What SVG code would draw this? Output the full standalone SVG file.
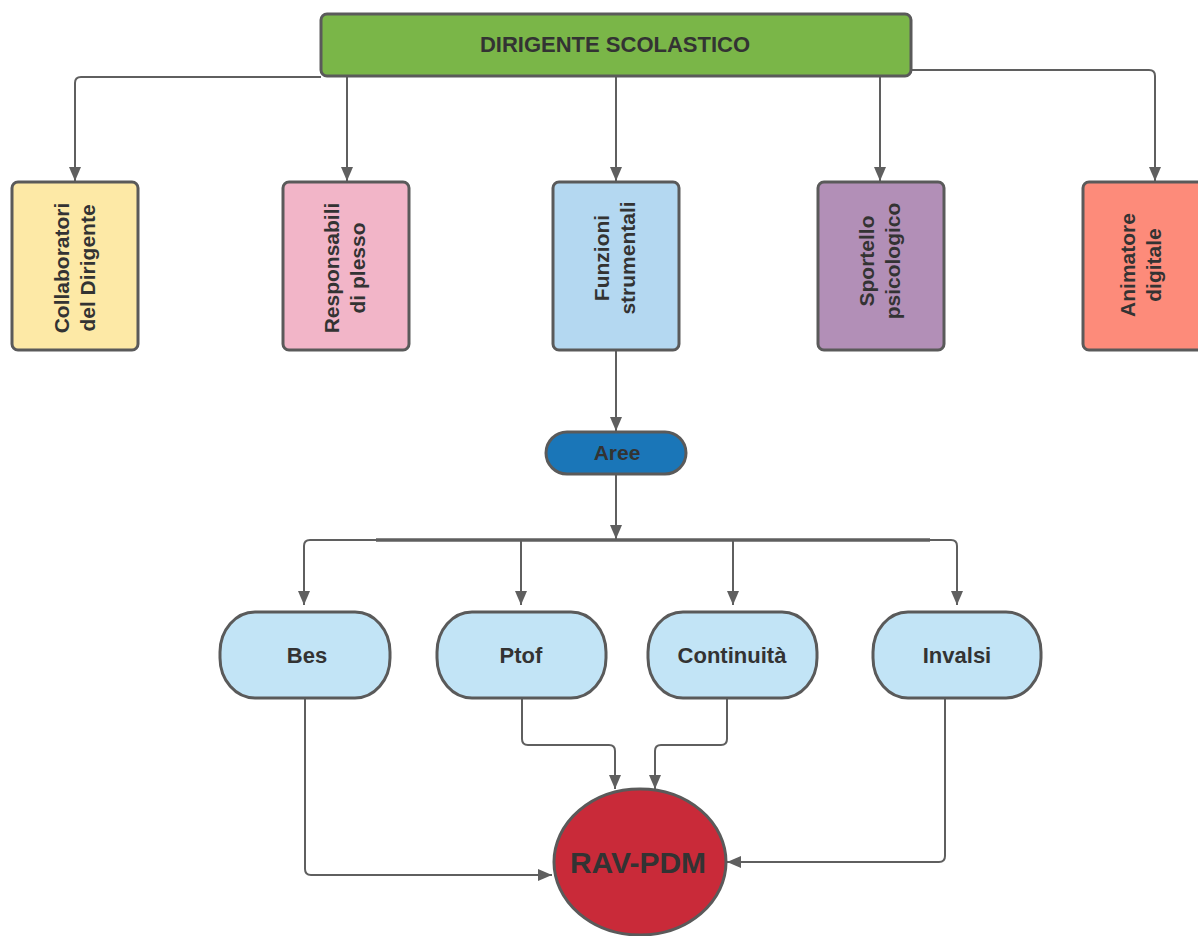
<svg xmlns="http://www.w3.org/2000/svg" width="1198" height="936" viewBox="0 0 1198 936">
<defs>
<style>
.box{stroke:#5a5a5a;stroke-width:3}
.t{font-family:"Liberation Sans",Arial,sans-serif;font-weight:bold;fill:#333;text-anchor:middle;dominant-baseline:central}
.c{fill:none;stroke:#5f5f5f;stroke-width:2}
</style>
<marker id="ahb" viewBox="0 0 14 12" refX="14" refY="6" markerWidth="14" markerHeight="12" markerUnits="userSpaceOnUse" orient="auto">
<path d="M0,0 L14,6 L0,12 Z" fill="#5f5f5f"/>
</marker>
</defs>
<rect width="1198" height="936" fill="#fff"/>
<g id="connectors">
<path class="c" d="M321,77 H81 Q75,77 75,83 V181" marker-end="url(#ahb)"/>
<path class="c" d="M347,76 V181" marker-end="url(#ahb)"/>
<path class="c" d="M616,76 V181" marker-end="url(#ahb)"/>
<path class="c" d="M880,76 V181" marker-end="url(#ahb)"/>
<path class="c" d="M911,70 H1149 Q1155,70 1155,76 V181" marker-end="url(#ahb)"/>
<path class="c" d="M616,350 V431" marker-end="url(#ahb)"/>
<path class="c" d="M616,474 V539" marker-end="url(#ahb)"/>
<path class="c" d="M304,605 V546 Q304,540 310,540 H951 Q957,540 957,546 V605" marker-end="url(#ahb)"/>
<path class="c" d="M376,540 H930" style="stroke-width:3.5"/>
<path class="c" d="M304,560 V605" marker-end="url(#ahb)"/>
<path class="c" d="M521,540 V605" marker-end="url(#ahb)"/>
<path class="c" d="M733,540 V605" marker-end="url(#ahb)"/>
<path class="c" d="M305,698 V869 Q305,875 311,875 H552" marker-end="url(#ahb)"/>
<path class="c" d="M522,698 V739 Q522,745 528,745 H609 Q615,745 615,751 V789" marker-end="url(#ahb)"/>
<path class="c" d="M727,698 V739 Q727,745 721,745 H661 Q655,745 655,751 V789" marker-end="url(#ahb)"/>
<path class="c" d="M945,698 V856 Q945,862 939,862 H727" marker-end="url(#ahb)"/>
</g>
<g id="dirigente">
<rect class="box" x="321" y="14" width="590" height="62" rx="6" fill="#7ab648"/>
<text class="t" x="615" y="44" font-size="22">DIRIGENTE SCOLASTICO</text>
</g>
<g id="collaboratori">
<rect class="box" x="12" y="182" width="126" height="168" rx="6" fill="#fde9a6"/>
<text class="t" font-size="21" transform="translate(74,268) rotate(-90)"><tspan x="0" y="-13">Collaboratori</tspan><tspan x="0" y="13">del Dirigente</tspan></text>
</g>
<g id="responsabili">
<rect class="box" x="283" y="182" width="126" height="168" rx="6" fill="#f2b5c8"/>
<text class="t" font-size="21" transform="translate(344,268) rotate(-90)"><tspan x="0" y="-13">Responsabili</tspan><tspan x="0" y="13">di plesso</tspan></text>
</g>
<g id="funzioni">
<rect class="box" x="553" y="182" width="126" height="168" rx="6" fill="#b4d8f1"/>
<text class="t" font-size="21" transform="translate(614,258) rotate(-90)"><tspan x="0" y="-13">Funzioni</tspan><tspan x="0" y="13">strumentali</tspan></text>
</g>
<g id="sportello">
<rect class="box" x="818" y="182" width="126" height="168" rx="6" fill="#b28fb7"/>
<text class="t" font-size="21" transform="translate(879,261) rotate(-90)"><tspan x="0" y="-13">Sportello</tspan><tspan x="0" y="13">psicologico</tspan></text>
</g>
<g id="animatore">
<rect class="box" x="1083" y="182" width="126" height="168" rx="6" fill="#fd8b7a"/>
<text class="t" font-size="21" transform="translate(1140,265) rotate(-90)"><tspan x="0" y="-13">Animatore</tspan><tspan x="0" y="13">digitale</tspan></text>
</g>
<g id="aree">
<rect class="box" x="546" y="432" width="140" height="42" rx="21" fill="#1a76b8"/>
<text class="t" x="617" y="452" font-size="21">Aree</text>
</g>
<g id="bes">
<rect class="box" x="220" y="612" width="170" height="86" rx="35" ry="40" fill="#c2e4f6"/>
<text class="t" x="307" y="655" font-size="22">Bes</text>
</g>
<g id="ptof">
<rect class="box" x="437" y="612" width="169" height="86" rx="35" ry="40" fill="#c2e4f6"/>
<text class="t" x="521" y="655" font-size="22">Ptof</text>
</g>
<g id="continuita">
<rect class="box" x="648" y="612" width="169" height="86" rx="35" ry="40" fill="#c2e4f6"/>
<text class="t" x="732" y="655" font-size="22">Continuità</text>
</g>
<g id="invalsi">
<rect class="box" x="873" y="612" width="168" height="86" rx="35" ry="40" fill="#c2e4f6"/>
<text class="t" x="957" y="655" font-size="22">Invalsi</text>
</g>
<g id="ravpdm">
<ellipse class="box" cx="640" cy="862" rx="86" ry="73" fill="#c92a39"/>
<text class="t" x="638" y="862" font-size="30">RAV-PDM</text>
</g>
</svg>
